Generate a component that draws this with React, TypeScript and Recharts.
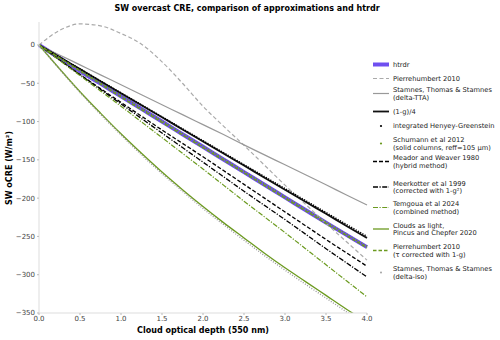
import { LineChart, Line, XAxis, YAxis } from 'recharts';

// optical depth grid (x)
const TAU = [0, 0.25, 0.5, 0.75, 1, 1.25, 1.5, 1.75, 2, 2.25, 2.5, 2.75, 3, 3.25, 3.5, 3.75, 4];

// SW overcast CRE (W/m2)
const htrdr = [0, -17, -34, -50.5, -67, -83.5, -100, -116.5, -133, -149.5, -166, -182.5, -199, -215.5, -232, -248, -264];
const pierre2010 = [0, 19, 27.5, 25, 15, 1, -22, -50, -80, -106, -131, -157, -183, -208, -233, -257, -281];
const stamnesTTA = [0, -13, -26, -39, -52, -65, -78, -91, -104, -117, -130.5, -143.5, -156.5, -169.5, -182.5, -196, -209];
const oneMinusG = [0, -15.8, -31.5, -47.3, -63, -78.8, -94.5, -110.3, -126, -141.8, -157.5, -173.3, -189, -204.8, -220.5, -236.3, -252];
const henyeyG = [0, -15.6, -31.3, -46.9, -62.5, -78.1, -93.8, -109.4, -125, -140.6, -156.3, -171.9, -187.5, -203.1, -218.8, -234.4, -250];
const schumann = [0, -16.5, -33, -49.5, -66, -82.5, -99, -115.5, -132, -148.5, -165, -181.5, -198, -214.5, -231, -247, -263];
const meador = [0, -19.5, -38.5, -57, -75, -93, -111, -128.5, -146, -164, -182, -200, -218, -236, -254, -271.5, -289];
const meerkotter = [0, -19.5, -39, -58, -77, -96, -115, -134, -153, -172, -191, -209.5, -228, -247, -266, -284.5, -303];
const temgoua = [0, -20, -40, -60, -80, -100.5, -121, -141.5, -162, -183, -204, -224.5, -245, -266, -287, -308, -329];
const cloudsLight = [0, -31, -61, -89, -116, -141.5, -166, -189, -211, -232, -252, -272, -291, -309, -327, -345, -362];
const pierreCorr = [0, -17, -34, -51, -68, -84.5, -101, -117.5, -134, -150.5, -167, -183.5, -200, -216.5, -233, -249, -265];
const stamnesIso = [0, -31.5, -62, -90.5, -117.5, -143.5, -168, -191, -213.5, -234.5, -255, -275, -294, -312.5, -330.5, -348.5, -366];

const X_TICKS = [0, 0.5, 1, 1.5, 2, 2.5, 3, 3.5, 4];
const Y_TICKS = [0, -50, -100, -150, -200, -250, -300, -350];

const GREEN = '#6b9a1f';
const PURPLE = '#6f4ff0';
const FONT = '"DejaVu Sans", sans-serif';

const data = TAU.map((t, i) => ({
  tau: t,
  htrdr: htrdr[i],
  pierre2010: pierre2010[i],
  stamnesTTA: stamnesTTA[i],
  oneMinusG: oneMinusG[i],
  henyeyG: henyeyG[i],
  schumann: schumann[i],
  meador: meador[i],
  meerkotter: meerkotter[i],
  temgoua: temgoua[i],
  cloudsLight: cloudsLight[i],
  pierreCorr: pierreCorr[i],
  stamnesIso: stamnesIso[i],
}));

interface Series {
  key: string;
  label: string[];
  color: string;
  width: number;
  dash?: string;
  dot?: boolean; // marker-only in the legend
  ly: number; // legend centre y
}

const SERIES: Series[] = [
  { key: 'htrdr', label: ['htrdr'], color: PURPLE, width: 4, ly: 64.5 },
  { key: 'pierre2010', label: ['Pierrehumbert 2010'], color: '#aaaaaa', width: 1.2, dash: '4 2.5', ly: 78.5 },
  { key: 'stamnesTTA', label: ['Stamnes, Thomas & Stamnes', '(delta-TTA)'], color: '#999999', width: 1.2, ly: 93.5 },
  { key: 'oneMinusG', label: ['(1-g)/4'], color: '#111111', width: 1.8, ly: 111.5 },
  { key: 'henyeyG', label: ['integrated Henyey-Greenstein'], color: '#000000', width: 1.5, dash: '1.2 1.4', dot: true, ly: 126 },
  { key: 'schumann', label: ['Schumann et al 2012', '(solid columns, reff=105 \u03bcm)'], color: GREEN, width: 1.5, dash: '1.2 1.6', dot: true, ly: 143.5 },
  { key: 'meador', label: ['Meador and Weaver 1980', '(hybrid method)'], color: '#000000', width: 1.3, dash: '4 2', ly: 161.5 },
  { key: 'meerkotter', label: ['Meerkotter et al 1999', '(corrected with 1-g\u00b2)'], color: '#000000', width: 1.3, dash: '5 1.5 1.2 1.5', ly: 187 },
  { key: 'temgoua', label: ['Temgoua et al 2024', '(combined method)'], color: GREEN, width: 1.2, dash: '5 1.5 1.2 1.5', ly: 207.5 },
  { key: 'cloudsLight', label: ['Clouds as light,', 'Pincus and Chepfer 2020'], color: GREEN, width: 1.3, ly: 229 },
  { key: 'pierreCorr', label: ['Pierrehumbert 2010', '(\u03c4 corrected with 1-g)'], color: GREEN, width: 1.5, dash: '3.5 2', ly: 250.5 },
  { key: 'stamnesIso', label: ['Stamnes, Thomas & Stamnes', '(delta-iso)'], color: '#999999', width: 1.4, dash: '1 1.6', dot: true, ly: 272.5 },
];

const fmtY = (v: number) => (v < 0 ? `\u2212${Math.abs(v)}` : `${v}`);

function Overlay() {
  return (
    <svg width={500} height={340} style={{ position: 'absolute', left: 0, top: 0, pointerEvents: 'none' }}>
      <text x={247} y={11} textAnchor="middle" fontSize={8} fontWeight="bold" fontFamily={FONT} fill="#000">
        SW overcast CRE, comparison of approximations and htrdr
      </text>
      <text x={203} y={333} textAnchor="middle" fontSize={8} fontWeight="bold" fontFamily={FONT} fill="#000">
        Cloud optical depth (550 nm)
      </text>
      <text
        x={12}
        y={168}
        transform="rotate(-90 12 168)"
        textAnchor="middle"
        fontSize={8}
        fontWeight="bold"
        fontFamily={FONT}
        fill="#000"
      >
        SW oCRE (W/m²)
      </text>
      {SERIES.map((s) => {
        const n = s.label.length;
        const y0 = s.ly - ((n - 1) * 7.5) / 2;
        return (
          <g key={s.key}>
            {s.dot ? (
              <circle cx={381} cy={s.ly} r={s.key === 'stamnesIso' ? 0.9 : 1.1} fill={s.color} />
            ) : (
              <line
                x1={373}
                x2={389}
                y1={s.ly}
                y2={s.ly}
                stroke={s.color}
                strokeWidth={s.width}
                strokeDasharray={s.dash}
              />
            )}
            {s.label.map((line, j) => (
              <text key={j} x={393} y={y0 + j * 7.5 + 2.3} fontSize={6.7} fontFamily={FONT} fill="#222">
                {line}
              </text>
            ))}
          </g>
        );
      })}
    </svg>
  );
}

export default function App() {
  return (
    <div style={{ position: 'absolute', left: 0, top: 0, width: 500, height: 340, background: '#fff' }}>
      <LineChart width={500} height={340} data={data} margin={{ top: 22, right: 133, bottom: 0, left: 0 }}>
        <XAxis
          dataKey="tau"
          type="number"
          domain={[0, 4]}
          ticks={X_TICKS}
          tickFormatter={(v: number) => v.toFixed(1)}
          height={27}
          tickSize={2}
          tickMargin={1}
          axisLine={{ stroke: '#dddddd' }}
          tickLine={{ stroke: '#bbbbbb' }}
          tick={{ fontSize: 7, fill: '#444', fontFamily: FONT }}
        />
        <YAxis
          type="number"
          domain={[-350, 30]}
          ticks={Y_TICKS}
          allowDataOverflow
          tickFormatter={fmtY}
          width={39}
          tickSize={2}
          tickMargin={2}
          axisLine={{ stroke: '#dddddd' }}
          tickLine={{ stroke: '#bbbbbb' }}
          tick={{ fontSize: 7, fill: '#444', fontFamily: FONT }}
        />
        {SERIES.map((s) => (
          <Line
            key={s.key}
            dataKey={s.key}
            type="monotone"
            stroke={s.color}
            strokeWidth={s.width}
            strokeDasharray={s.dash}
            dot={false}
            activeDot={false}
            isAnimationActive={false}
          />
        ))}
      </LineChart>
      <Overlay />
    </div>
  );
}
